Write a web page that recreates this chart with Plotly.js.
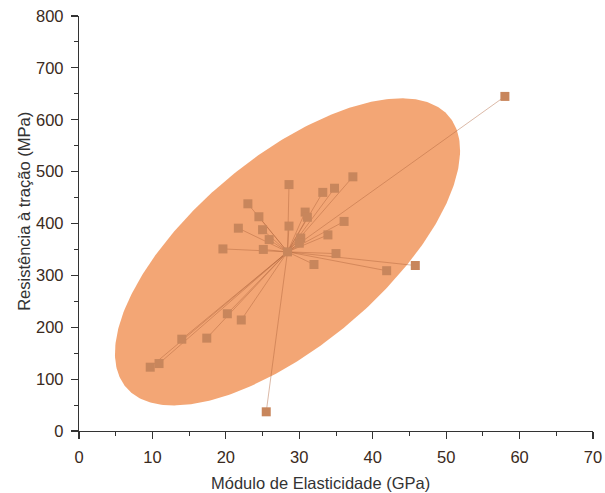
<!DOCTYPE html>
<html>
<head>
<meta charset="utf-8">
<script src="https://cdn.plot.ly/plotly-3.0.1.min.js"></script>
<style>html,body{margin:0;padding:0;background:#fff;}#chart{width:605px;height:493px;}</style>
</head>
<body>
<div id="chart"></div>
<script>
// Data
const modulus = [28.6, 37.3, 34.8, 33.2, 23.0, 30.8, 31.1, 24.5, 21.7, 25.0,
                 28.6, 36.1, 33.9, 25.9, 30.2, 30.0, 19.6, 25.1, 35.0, 32.0,
                 45.8, 41.9, 20.2, 22.1, 14.0, 17.4, 9.7, 10.9, 25.5, 58.0];
const strength = [475, 490, 468, 460, 438, 422, 412, 413, 391, 388,
                  395, 404, 378, 369, 372, 362, 351, 350, 342, 321,
                  319, 309, 226, 214, 177, 179, 123, 130, 37, 645];
// Confidence ellipse (half extents and correlation)
const ellipseHalfX = 23.5;
const ellipseHalfY = 296;
const ellipseRho = 0.66;
const xTicks = [0, 10, 20, 30, 40, 50, 60, 70];
const yTicks = [0, 100, 200, 300, 400, 500, 600, 700, 800];
const xTitle = 'Módulo de Elasticidade (GPa)';
const yTitle = 'Resistência à tração (MPa)';

const n = modulus.length;
const cx = modulus.reduce((a, b) => a + b, 0) / n;
const cy = strength.reduce((a, b) => a + b, 0) / n;

// ellipse outline
const ex = [], ey = [];
const delta = Math.acos(ellipseRho);
for (let i = 0; i <= 360; i++) {
  const t = i * Math.PI / 180;
  ex.push(cx + ellipseHalfX * Math.cos(t));
  ey.push(cy + ellipseHalfY * Math.cos(t - delta));
}

// star lines from centroid
const lx = [], ly = [];
for (let i = 0; i < n; i++) {
  lx.push(cx, modulus[i], null);
  ly.push(cy, strength[i], null);
}

const font = 'Liberation Sans, Arial, sans-serif';
const traces = [
  {x: ex, y: ey, mode: 'lines', fill: 'toself', fillcolor: '#F3A675',
   line: {width: 0, color: '#F3A675'}, hoverinfo: 'skip', showlegend: false},
  {x: lx, y: ly, mode: 'lines', line: {color: 'rgba(175,100,60,0.45)', width: 1},
   hoverinfo: 'skip', showlegend: false},
  {x: modulus.concat([cx]), y: strength.concat([cy]), mode: 'markers',
   marker: {symbol: 'square', size: 9, color: '#C8865C'}, showlegend: false}
];

const axisCommon = {
  showgrid: false, zeroline: false, showline: true, linecolor: '#333', linewidth: 1.2,
  ticks: 'outside', ticklen: 7, tickwidth: 1.2, tickcolor: '#333',
  tickfont: {family: font, size: 16.5, color: '#3a2a20'},
  ticklabelstandoff: 4
};

const layout = {
  width: 605, height: 493,
  margin: {l: 79.3, r: 12.1, t: 15.7, b: 62},
  paper_bgcolor: '#fff', plot_bgcolor: '#fff',
  xaxis: Object.assign({}, axisCommon, {
    range: [0, 70], tickvals: xTicks, ticktext: xTicks.map(String),
    minor: {dtick: 5, ticks: 'outside', ticklen: 4, tickcolor: '#333', tickwidth: 1}
  }),
  yaxis: Object.assign({}, axisCommon, {
    range: [0, 800], tickvals: yTicks, ticktext: yTicks.map(String),
    minor: {dtick: 50, ticks: 'outside', ticklen: 4, tickcolor: '#333', tickwidth: 1}
  }),
  annotations: [
    {text: xTitle, xref: 'paper', yref: 'paper', x: 0.4696, y: -0.125,
     xanchor: 'center', yanchor: 'middle', showarrow: false,
     font: {family: font, size: 16.5, color: '#333'}},
    {text: yTitle, xref: 'paper', yref: 'paper', x: -0.1057, y: 0.5297,
     xanchor: 'center', yanchor: 'middle', showarrow: false, textangle: -90,
     font: {family: font, size: 16.5, color: '#333'}}
  ],
  showlegend: false
};

Plotly.newPlot('chart', traces, layout, {displayModeBar: false, staticPlot: true});
</script>
</body>
</html>
